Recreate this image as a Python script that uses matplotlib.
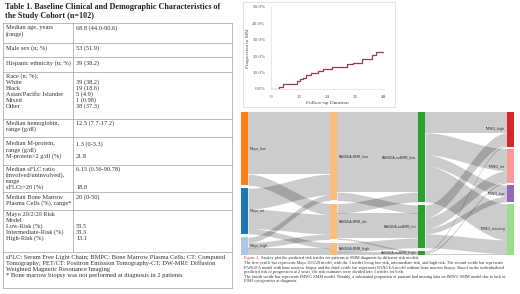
import numpy as np
import matplotlib.pyplot as plt
from matplotlib.patches import Rectangle

# ---- table 1 data
title_lines = ["Table 1. Baseline Clinical and Demographic Characteristics of",
               "the Study Cohort (n=102)"]
row_labels = [
    ["Median age, years", "(range)"],
    ["Male sex (n; %)"],
    ["Hispanic ethnicity (n; %)"],
    ["Race (n; %):", "White", "Black", "Asian/Pacific Islander", "Mixed", "Other"],
    ["Median hemoglobin,", "range (g/dl)"],
    ["Median M-protein,", "range (g/dl)", "M-protein>2 g/dl (%)"],
    ["Median sFLC ratio", "(involved/uninvolved),", "range", "sFLCr>20 (%)"],
    ["Median Bone Marrow", "Plasma Cells (%), range*"],
    ["Mayo 20/2/20 Risk", "Model", "Low-Risk (%)", "Intermediate-Risk (%)", "High-Risk (%)"],
]
row_values = [
    ["68.8 (44.0-90.6)"],
    ["53 (51.9)"],
    ["39 (38.2)"],
    ["", "39 (38.2)", "19 (18.6)", "5 (4.9)", "1 (0.98)", "38 (37.3)"],
    ["12.5 (7.7-17.2)"],
    ["1.3 (0-3.3)", "", "21.8"],
    ["6.15 (0.56-90.78)", "", "", "18.8"],
    ["20 (0-50)"],
    ["", "", "53.5", "33.3", "13.1"],
]
footnote = ["sFLC: Serum Free Light Chain; BMPC: Bone Marrow Plasma Cells; CT: Computed",
            "Tomography; PET/CT: Positron Emission Tomography-CT; DW-MRI: Diffusion",
            "Weighted Magnetic Resonance Imaging",
            "* Bone marrow biopsy was not performed at diagnosis in 2 patients"]

# ---- figure 1: K/M curve (months, cumulative % progressed)
km_months = [0, 3.6, 5.0, 11.3, 12.4, 13.9, 15.0, 17.0, 20.3, 22.4, 26.3, 32.4, 35.0, 38.9, 43.1, 45.0, 48.4]
km_risk = [0, 1.0, 2.9, 4.9, 5.9, 6.9, 8.3, 9.6, 10.8, 12.2, 13.6, 15.0, 16.0, 18.5, 20.5, 22.7, 22.7]
km_title = ["Figure 1. K/M Curve for", "Cumulative Risk of Progression to", "MM in the Study Cohort"]

# ---- figure 2: sankey
col_labels = [
    ["Mayo_low", "Mayo_int", "Mayo_high"],
    ["PANGEA-BMB_low", "PANGEA-BMB_int", "PANGEA-BMB_high"],
    ["PANGEA-noBMB_low", "PANGEA-noBMB_int", "PANGEA-noBMB_high"],
    ["IMWG_high", "IMWG_int", "IMWG_low", "IMWG_missing"],
]
col_colors = [
    ["#ff7f0e", "#1f77b4", "#aec7e8"],
    ["#ffbb78", "#ffbb78", "#ffbb78"],
    ["#2ca02c", "#2ca02c", "#2ca02c"],
    ["#d62728", "#ff9896", "#9467bd", "#98df8a"],
]
# flows[i][a][b]: patients from node a of column i to node b of column i+1
flows = [
    [[45, 8, 0], [15, 14, 4], [4, 4, 5]],
    [[58, 6, 0], [7, 18, 1], [0, 7, 2]],
    [[15, 16, 8, 26], [9, 8, 4, 10], [1, 1, 0, 1]],
]
caption = [
    "The first vertile bar represents Mayo 20/2/20 model, with the 3 tertiles being low-risk, intermediate-risk, and high-risk. The second vertile bar represents",
    "PANGEA model with bone marrow biopsy and the third vertile bar represents PANGEA model without bone marrow biopsy. Based on the individualized",
    "predicted risk of progression at 2 years, the risk estimates were divided into 3 tertiles for both.",
    "The fourth vertile bar represents IMWG SMM model. Notably, a substantial proportion of patients had missing data on IMWG SMM model due to lack of",
    "FISH cytogenetics at diagnosis.",
]

serif = "Liberation Serif"
txt = "#333333"
fig = plt.figure(figsize=(5.2, 2.94), dpi=100)

# background axes in pixel units
bg = fig.add_axes([0, 0, 1, 1])
bg.set_xlim(0, 520)
bg.set_ylim(294, 0)
bg.axis("off")

# table
bg.text(5, 7, title_lines[0], fontsize=5.9, fontweight="bold", family=serif, color="#222", va="center")
bg.text(5, 15.5, title_lines[1], fontsize=5.9, fontweight="bold", family=serif, color="#222", va="center")
borders = [23, 43, 57, 72, 119, 137, 165, 192, 210, 252, 288]
first_y = [28, 48.5, 63, 76, 123.5, 144, 169.5, 197.5, 214.5]
lc = "#a0a0a0"
for yb in borders:
    bg.plot([3, 232], [yb, yb], color=lc, lw=0.5)
bg.plot([3, 3], [23, 288], color=lc, lw=0.5)
bg.plot([232, 232], [23, 288], color=lc, lw=0.5)
bg.plot([73, 73], [23, 252], color=lc, lw=0.5)
for y0, labs, vals in zip(first_y, row_labels, row_values):
    for k, s in enumerate(labs):
        bg.text(6, y0 + 6 * k, s, fontsize=4.6, family=serif, color=txt, va="center")
    for k, s in enumerate(vals):
        bg.text(76, y0 + 6 * k, s, fontsize=4.6, family=serif, color=txt, va="center")
for k, s in enumerate(footnote):
    bg.text(6, 257 + 6 * k, s, fontsize=4.7, family=serif, color=txt, va="center")

# K/M figure
bg.add_patch(Rectangle((243, 2), 152, 105, fill=False, ec="#dddddd", lw=0.6))
ax = fig.add_axes([271 / 520, 1 - 89 / 294, 113.2 / 520, 82 / 294])
ax.step(km_months, km_risk, where="post", color="#9b3b4b", lw=0.9)
ax.set_xlim(0, 48.5)
ax.set_ylim(0, 50)
ax.set_xticks([0, 12, 24, 36, 48])
ax.set_yticks([0, 10, 20, 30, 40, 50])
ax.set_yticklabels([f"{v:.1f}%" for v in [0, 10, 20, 30, 40, 50]])
ax.tick_params(length=0, labelsize=3.6, colors="#555555", pad=4)
for lab in ax.get_xticklabels() + ax.get_yticklabels():
    lab.set_family(serif)
ax.set_xlabel("Follow-up Duration", fontsize=3.9, family=serif, color="#444", labelpad=1.5)
ax.set_ylabel("Progression to MM", fontsize=3.6, family=serif, color="#444", labelpad=2)
for s in ["top", "right"]:
    ax.spines[s].set_visible(False)
for s in ["left", "bottom"]:
    ax.spines[s].set_color("#dddddd")
    ax.spines[s].set_linewidth(0.5)
for k, s in enumerate(km_title):
    bg.text(297, 12 + 5 * k, s, fontsize=3.2, fontweight="bold", family=serif, color="#222", va="center")

# Sankey
sk = fig.add_axes([241 / 520, 1 - 255 / 294, 273 / 520, 143 / 294])
sk.axis("off")
col_x = [0, 89, 177, 266]
bw = 7
H = 103.5
sk.set_xlim(0, 273)
sk.set_ylim(H, 0)

totals = []
totals.append(np.array(flows[0]).sum(axis=1))
for f in flows:
    totals.append(np.array(f).sum(axis=0))
node_top = []
for tot in totals:
    gap = (H - tot.sum()) / (len(tot) - 1)
    node_top.append(np.concatenate([[0], np.cumsum(tot[:-1] + gap)]))

for i, f in enumerate(flows):
    f = np.array(f)
    out_pos = node_top[i].astype(float).copy()
    in_pos = node_top[i + 1].astype(float).copy()
    x0, x1 = col_x[i] + bw, col_x[i + 1]
    xs = np.linspace(x0, x1, 80)
    u = (xs - x0) / (x1 - x0)
    sm = 3 * u ** 2 - 2 * u ** 3
    for a in range(f.shape[0]):
        for b in range(f.shape[1]):
            v = f[a, b]
            if v == 0:
                continue
            s0, t0 = out_pos[a], in_pos[b]
            top = s0 + (t0 - s0) * sm
            sk.fill_between(xs, top, top + v, color="black", alpha=0.2, lw=0)
            out_pos[a] += v
            in_pos[b] += v

for i, tot in enumerate(totals):
    sk.bar([col_x[i]] * len(tot), tot, bottom=node_top[i], width=bw, align="edge",
           color=col_colors[i], lw=0)
    for k, name in enumerate(col_labels[i]):
        yc = node_top[i][k] + tot[k] / 2
        if i < 2:
            sk.text(col_x[i] + bw + 2, yc, name, fontsize=2.4, color="#333", va="center", ha="left")
        else:
            sk.text(col_x[i] - 2, yc, name, fontsize=2.4, color="#333", va="center", ha="right")

# caption
t1 = bg.text(244.5, 258.3, "Figure 2.", fontsize=3.1, family=serif, color="#c0392b", va="center")
bg.annotate(" Sankey plot the predicted risk tertiles for patients at SMM diagnosis by different risk models.",
            xy=(1, 0.5), xycoords=t1, fontsize=3.1, family=serif, color=txt, va="center")
for k, s in enumerate(caption):
    bg.text(244.5, 262.9 + 4.6 * k, s, fontsize=3.1, family=serif, color=txt, va="center")

fig.savefig("out.png", dpi=100)
